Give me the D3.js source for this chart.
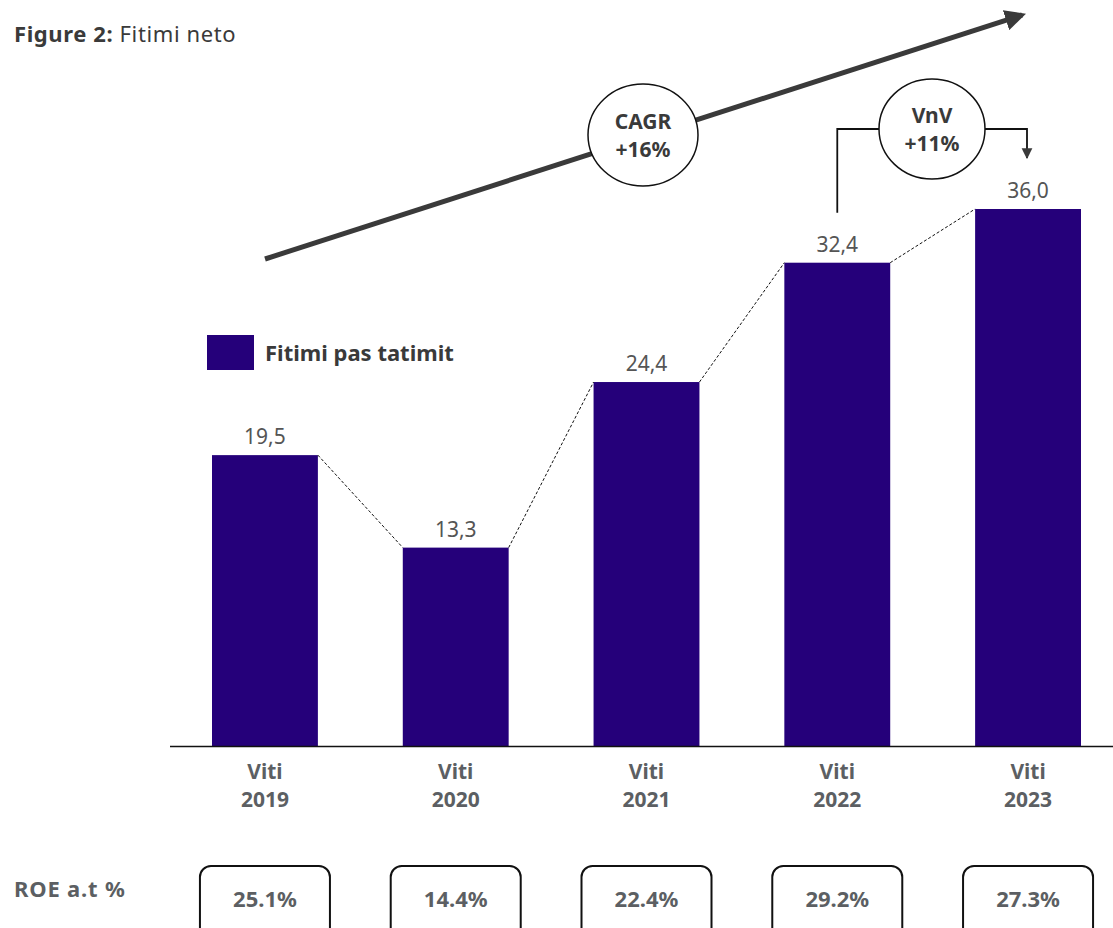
<!DOCTYPE html>
<html>
<head>
<meta charset="utf-8">
<script src="https://cdn.jsdelivr.net/npm/d3@7"></script>
<style>
  html, body { margin: 0; padding: 0; background: #fff; }
  svg { display: block; font-family: "Noto Sans", "Open Sans", sans-serif; }
</style>
</head>
<body>
<svg id="chart" width="1113" height="928"></svg>
<script>
// Net profit after tax by year, with ROE row beneath
const years = ["2019", "2020", "2021", "2022", "2023"];
const profit = [19.5, 13.3, 24.4, 32.4, 36.0];
const profitLabels = ["19,5", "13,3", "24,4", "32,4", "36,0"];
const roe = ["25.1%", "14.4%", "22.4%", "29.2%", "27.3%"];
const seriesName = "Fitimi pas tatimit";
const cagrLabel = ["CAGR", "+16%"];
const yoyLabel = ["VnV", "+11%"];

const barColor = "#25007a";
const textGray = "#5c5f63";
const dark = "#3a3a3a";
const fsBold = 22;
const fsStack = 21;   // two-line labels
const lineGap = 28;

const svg = d3.select("#chart");

const x = d3.scaleBand().domain(years).range([212, 1081]).paddingInner(0.445).paddingOuter(0);
const y = d3.scaleLinear().domain([0, 36]).range([746, 209]);
const cx = d => x(d) + x.bandwidth() / 2;

// Title
const title = svg.append("text").attr("x", 14).attr("y", 42)
  .attr("font-size", 22).attr("letter-spacing", 0.6).attr("fill", dark);
title.append("tspan").attr("font-weight", 700).text("Figure 2:");
title.append("tspan").text(" Fitimi neto");

// Arrow markers
const defs = svg.append("defs");
defs.append("marker").attr("id", "bigHead").attr("viewBox", "0 0 10 10")
  .attr("refX", 8).attr("refY", 5).attr("markerWidth", 4.2).attr("markerHeight", 4.2)
  .attr("markerUnits", "strokeWidth").attr("orient", "auto")
  .append("path").attr("d", "M0,0 L10,5 L0,10 Z").attr("fill", dark);
defs.append("marker").attr("id", "smallHead").attr("viewBox", "0 0 10 10")
  .attr("refX", 9).attr("refY", 5).attr("markerWidth", 6).attr("markerHeight", 7)
  .attr("markerUnits", "strokeWidth").attr("orient", "auto")
  .append("path").attr("d", "M0,0 L10,5 L0,10 Z").attr("fill", dark);

// Bars
svg.append("g").selectAll("rect").data(years).join("rect")
  .attr("x", d => x(d)).attr("width", x.bandwidth())
  .attr("y", (d, i) => y(profit[i]))
  .attr("height", (d, i) => y(0) - y(profit[i]))
  .attr("fill", barColor);

// Dashed connectors between bar tops
svg.append("g").selectAll("line").data(years.slice(1)).join("line")
  .attr("x1", (d, i) => x(years[i]) + x.bandwidth())
  .attr("y1", (d, i) => y(profit[i]))
  .attr("x2", d => x(d))
  .attr("y2", (d, i) => y(profit[i + 1]))
  .attr("stroke", "#111").attr("stroke-width", 1).attr("stroke-dasharray", "3,2");

// Value labels
svg.append("g").selectAll("text").data(years).join("text")
  .attr("x", d => cx(d)).attr("y", (d, i) => y(profit[i]) - 11)
  .attr("text-anchor", "middle").attr("font-size", 21).attr("fill", "#555")
  .text((d, i) => profitLabels[i]);

// Baseline axis
svg.append("line").attr("x1", 170).attr("x2", 1113).attr("y1", y(0) + 0.5).attr("y2", y(0) + 0.5)
  .attr("stroke", "#111").attr("stroke-width", 1.5);

// Category labels (two separate lines)
const catG = svg.append("g").attr("font-size", fsStack).attr("font-weight", 700)
  .attr("fill", textGray).attr("text-anchor", "middle");
catG.selectAll("text.l1").data(years).join("text").attr("class", "l1")
  .attr("x", d => cx(d)).attr("y", 779).text("Viti");
catG.selectAll("text.l2").data(years).join("text").attr("class", "l2")
  .attr("x", d => cx(d)).attr("y", 779 + lineGap).text(d => d);

// Legend
svg.append("rect").attr("x", 207).attr("y", 335).attr("width", 47).attr("height", 35).attr("fill", barColor);
svg.append("text").attr("x", 265).attr("y", 361).attr("font-size", fsBold).attr("font-weight", 700)
  .attr("fill", dark).text(seriesName);

// CAGR trend arrow with ellipse badge
svg.append("line").attr("x1", 265).attr("y1", 259).attr("x2", 1022).attr("y2", 15)
  .attr("stroke", dark).attr("stroke-width", 5).attr("marker-end", "url(#bigHead)");
const cagr = svg.append("g").attr("transform", "translate(643,135)");
cagr.append("ellipse").attr("rx", 55).attr("ry", 51).attr("fill", "#fff").attr("stroke", "#111").attr("stroke-width", 1.5);
cagr.selectAll("text").data(cagrLabel).join("text")
  .attr("y", (d, i) => -6 + i * lineGap).attr("text-anchor", "middle")
  .attr("font-size", fsStack).attr("font-weight", 700).attr("fill", dark).text(d => d);

// Year-on-year bracket between the last two bars
const yoyY = 129;
svg.append("path")
  .attr("d", `M${cx("2022")},${y(profit[3]) - 50} V${yoyY} H${1027} V${158}`)
  .attr("fill", "none").attr("stroke", "#111").attr("stroke-width", 1.8)
  .attr("marker-end", "url(#smallHead)");
const yoy = svg.append("g").attr("transform", `translate(932,${yoyY})`);
yoy.append("ellipse").attr("rx", 53).attr("ry", 50).attr("fill", "#fff").attr("stroke", "#111").attr("stroke-width", 1.5);
yoy.selectAll("text").data(yoyLabel).join("text")
  .attr("y", (d, i) => -6 + i * lineGap).attr("text-anchor", "middle")
  .attr("font-size", fsStack).attr("font-weight", 700).attr("fill", dark).text(d => d);

// ROE row
svg.append("text").attr("x", 14).attr("y", 897).attr("font-size", fsBold).attr("font-weight", 700)
  .attr("letter-spacing", 0.8).attr("fill", textGray).text("ROE a.t %");
const roeG = svg.append("g").selectAll("g").data(years).join("g")
  .attr("transform", d => `translate(${cx(d)},0)`);
roeG.append("rect").attr("x", -65).attr("y", 866).attr("width", 130).attr("height", 90)
  .attr("rx", 11).attr("fill", "#fff").attr("stroke", "#111").attr("stroke-width", 2);
roeG.append("text").attr("y", 907).attr("text-anchor", "middle").attr("font-size", fsBold)
  .attr("font-weight", 700).attr("fill", textGray).text((d, i) => roe[i]);
</script>
</body>
</html>
